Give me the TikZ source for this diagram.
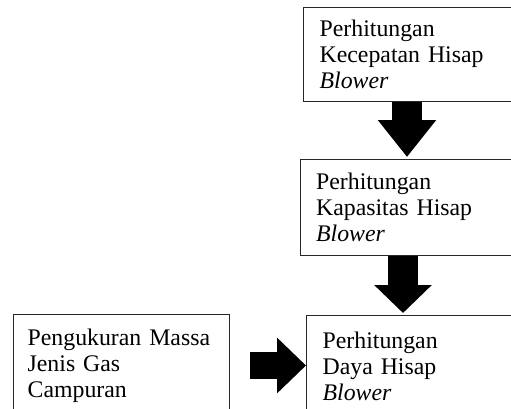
\documentclass[tikz,border=0pt]{standalone}
\usepackage{fontspec}
\setmainfont{Liberation Serif}
\usetikzlibrary{arrows.meta,calc}
\tikzset{
  box/.style={draw=black!85, line width=1pt, anchor=north west, align=left,
    inner ysep=0pt, font=\fontsize{17.85}{19.5}\selectfont},
  bigarrow/.style={line width=22.5pt, draw=black,
    -{Triangle[length=#1, width=42pt]}},
  sidearrow/.style={line width=20.25pt, draw=black,
    -{Triangle[length=21.75pt, width=40.5pt]}}
}
\begin{document}
\begin{tikzpicture}[x=0.75pt,y=-0.75pt]
\useasboundingbox (0,0) rectangle (511,408);
\clip (0,0) rectangle (511,408);
\node[box, inner xsep=12pt, text width=146.25pt, minimum height=70.5pt] (b1) at (303,7)
  {Perhitungan\\Kecepatan Hisap\\\textit{Blower}};
\node[box, inner xsep=11.6pt, text width=149.3pt, minimum height=72pt] (b2) at (300,159)
  {Perhitungan\\Kapasitas Hisap\\\textit{Blower}};
\node[box, inner xsep=12pt, text width=144pt, minimum height=76.5pt] (b3) at (306,315)
  {Perhitungan\\Daya Hisap\\\textit{Blower}};
\node[box, inner xsep=10.5pt, text width=141pt, minimum height=76.5pt] (lb) at (13,314)
  {Pengukuran Massa\\Jenis Gas\\Campuran};
\coordinate (c1) at (407,0);
\coordinate (c2) at (403,0);
\coordinate (c3) at (0,365.5);
\draw[bigarrow=27.75pt, shorten >=1.5pt] (b1.south -| c1) -- (b2.north -| c1);
\draw[bigarrow=21pt, shorten >=1.5pt] (b2.south -| c2) -- (b3.north -| c2);
\draw[sidearrow, shorten <=15pt] (lb.east |- c3) -- (b3.west |- c3);
\end{tikzpicture}
\end{document}
